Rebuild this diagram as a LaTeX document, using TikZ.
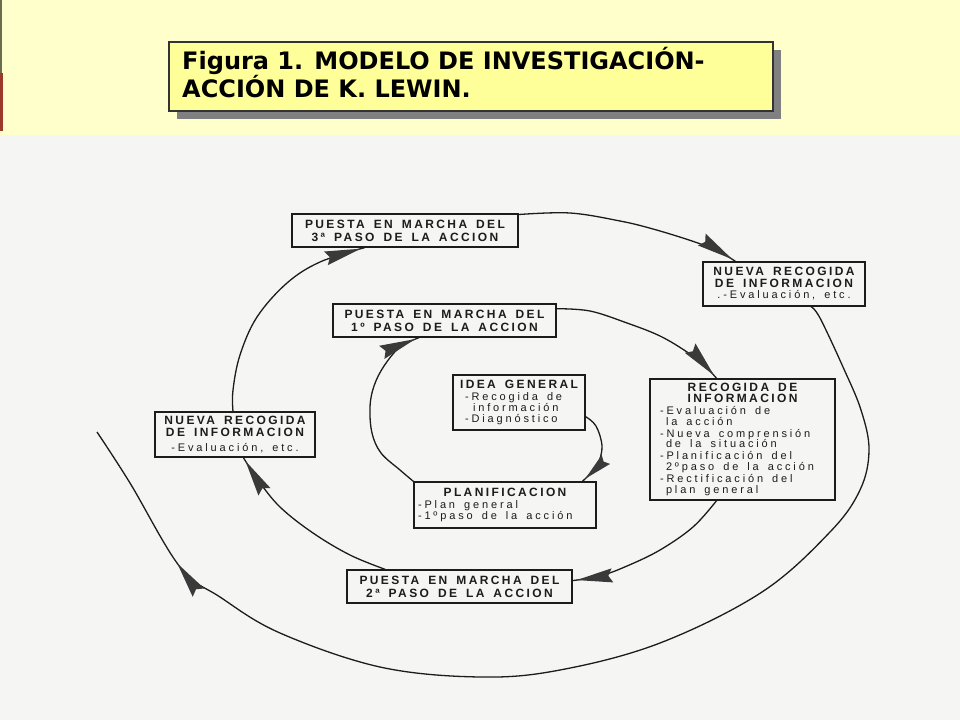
\documentclass[tikz,border=0pt]{standalone}
\usepackage{fontspec}
\setmainfont{Liberation Sans}
\newfontfamily\tfont{DejaVu Sans}
\newfontfamily\dbold{Liberation Sans}[LetterSpace=20]
\newfontfamily\dreg{Liberation Sans}[LetterSpace=26]
\usetikzlibrary{arrows.meta,decorations.markings,shadows}
\definecolor{paper}{HTML}{F5F5F3}
\definecolor{band}{HTML}{FFFFCC}
\definecolor{titlefill}{HTML}{FFFF99}
\definecolor{ink}{HTML}{1C1C1C}
\definecolor{arrowgray}{HTML}{3A3A3A}
\definecolor{stripred}{HTML}{9C3A2A}
\definecolor{stripdark}{HTML}{6B6B50}
\pgfdeclarelayer{bg}
\pgfdeclarelayer{curves}
\pgfsetlayers{bg,curves,main}
\newcommand\wsp{\spaceskip=9pt\relax}
\newcommand\bfnt{\dbold\bfseries\wsp}
\newcommand\rgfnt{\dreg\mdseries\wsp}
\newcommand\boxhead[1]{\makebox[\hsize]{\bfnt\fontsize{12}{11}\selectfont #1}}
\newcommand\regtext[1]{{\rgfnt\fontsize{11}{11.5}\selectfont #1}}
\newcommand\txl[1]{\mbox{\wsp #1}}
\tikzset{
  dbox/.style={draw=ink, line width=1.3pt, fill=paper, inner sep=0pt, text=ink},
  pbox/.style={dbox, align=center, minimum height=33pt, font=\bfnt\fontsize{12}{13}\selectfont},
  nbox/.style={dbox, align=center, minimum width=160pt, minimum height=44pt, text width=156pt, font=\bfnt\fontsize{12}{11.5}\selectfont},
  lbox/.style={dbox, align=left, font=\rgfnt\fontsize{11}{11}\selectfont},
  spiral/.style={draw=ink, line width=1.3pt},
  tipat/.style={postaction={decorate}, decoration={markings, mark=at position #1 with {\arrow{Stealth[length=36pt,width=14pt,inset=4pt,color=arrowgray]}}}},
  tipshort/.style={postaction={decorate}, decoration={markings, mark=at position #1 with {\arrow{Stealth[length=28pt,width=12pt,inset=3pt,color=arrowgray]}}}},
  titletxt/.style={inner sep=0pt, font=\tfont\bfseries\fontsize{24}{28}\selectfont, text=black}
}
\begin{document}
\begin{tikzpicture}[x=1pt,y=1pt]
\useasboundingbox (0,0) rectangle (960,-720);
\begin{pgfonlayer}{bg}
\fill[paper] (0,0) rectangle (960,-720);
\fill[band] (0,0) rectangle (960,-135);
\fill[stripdark] (0,0) rectangle (2,-73);
\fill[stripred] (0,-73) rectangle (3,-131);
\end{pgfonlayer}

% title
\node[draw=black!80, line width=1.3pt, fill=titlefill, minimum width=604pt, minimum height=69pt, inner sep=0pt,
      drop shadow={shadow xshift=8pt, shadow yshift=-8pt, fill=black!50, opacity=1}] (titlebox) at (471,-76.5) {};
\node[titletxt, anchor=base west] (titleA) at (182,-69) {Figura 1. MODELO DE INVESTIGACIÓN-};
\node[titletxt, anchor=base west] (titleB) at (182,-97) {ACCIÓN DE K. LEWIN.};

% boxes
\node[pbox, minimum width=226pt, text width=222pt] (tercero) at (405,-230.5) {\wsp PUESTA EN MARCHA DEL\\3ª PASO DE LA ACCION};
\node[pbox, minimum width=223pt, text width=219pt] (primero) at (444.5,-320.5) {\wsp PUESTA EN MARCHA DEL\\1º PASO DE LA ACCION};
\node[pbox, minimum width=225pt, text width=221pt] (segundo) at (459.5,-586.5) {\wsp PUESTA EN MARCHA DEL\\2ª PASO DE LA ACCION};
\node[nbox, minimum width=162pt] (nuevaR) at (784,-284) {\wsp NUEVA RECOGIDA\\DE INFORMACION\\\regtext{.-Evaluación, etc.}};
\node[nbox, minimum height=45pt] (nuevaL) at (235,-434.5) {\wsp NUEVA RECOGIDA\\DE INFORMACION\\[3.5pt]\regtext{-Evaluación, etc.}};
\node[lbox, minimum width=185pt, minimum height=121pt, text width=165pt, font=\rgfnt\fontsize{11}{10.6}\selectfont] (recog) at (742.5,-439.5)
  {\boxhead{RECOGIDA DE}\\
   \boxhead{INFORMACION}\\[1.5pt]
   \txl{-Evaluación de}\\
   \txl{\hspace*{6pt}la acción}\\[1.5pt]
   \txl{-Nueva comprensión}\\
   \txl{\hspace*{6pt}de la situación}\\[1.5pt]
   \txl{-Planificación del}\\
   \txl{\hspace*{6pt}2ºpaso de la acción}\\[1.5pt]
   \txl{-Rectificación del}\\
   \txl{\hspace*{6pt}plan general}};
\node[lbox, minimum width=132pt, minimum height=55pt, text width=108pt] (idea) at (519,-402.5)
  {\boxhead{IDEA GENERAL}\\[1pt]
   \txl{-Recogida de}\\
   \txl{\hspace*{8pt}información}\\
   \txl{-Diagnóstico}};
\node[lbox, minimum width=182pt, minimum height=46pt, text width=174pt] (plan) at (505,-505)
  {\boxhead{PLANIFICACION}\\[1pt]
   \txl{-Plan general}\\
   \txl{-1ºpaso de la acción}};
\coordinate (freeend) at (97,-432);

% spiral
\begin{pgfonlayer}{curves}
\draw[spiral, tipshort=-4pt] plot[smooth, tension=0.6] coordinates {(idea.-12) (596,-426) (602,-446) (598,-464) (590,-474) (plan.17)};
\draw[spiral, tipat=-4pt] plot[smooth, tension=0.6] coordinates {(plan.north west) (400,-470) (381,-453) (372,-433) (370,-407) (374,-386) (384,-366) (400,-347) (primero.214)};
\draw[spiral, tipat=-4pt] plot[smooth, tension=0.6] coordinates {(primero.6) (590,-311) (627,-323) (660,-336) (687,-352) (705,-366) (recog.113)};
\draw[spiral, tipat=-4pt] plot[smooth, tension=0.6] coordinates {(recog.247) (693,-527) (660,-550) (627,-566) (600,-576) (segundo.3)};
\draw[spiral, tipat=-4pt] plot[smooth, tension=0.6] coordinates {(segundo.167) (350,-555) (313,-533) (280,-507) (258,-480) (nuevaL.-70)};
\draw[spiral, tipat=-4pt] plot[smooth, tension=0.6] coordinates {(nuevaL.95) (233,-390) (240,-355) (257,-317) (287,-283) (320,-262) (tercero.203)};
\draw[spiral, tipat=-4pt] plot[smooth, tension=0.6] coordinates {(tercero.8) (570,-213) (620,-221) (653,-229) (692,-241) (718,-251) (nuevaR.155)};
\draw[spiral, tipat=-154pt] plot[smooth, tension=0.6] coordinates {(nuevaR.-40) (820,-318) (843,-367) (861,-410) (869,-450) (860,-490) (830,-532) (762,-592) (660,-643) (560,-670) (480,-677) (380,-667) (280,-633) (220,-597) (180,-567) (130,-483) (freeend)};
\end{pgfonlayer}
\end{tikzpicture}
\end{document}
